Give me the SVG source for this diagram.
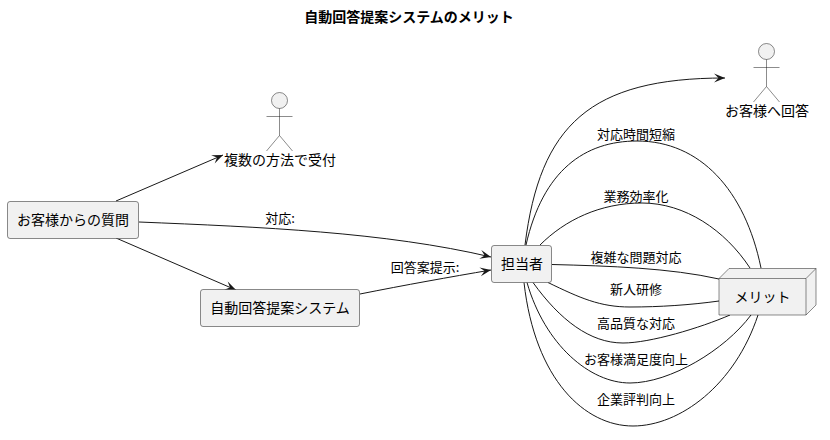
<svg xmlns="http://www.w3.org/2000/svg" width="830" height="440" viewBox="0 0 830 440">
<style>
text{font-family:"Noto Sans CJK JP","Noto Sans CJK SC",sans-serif;fill:#000;text-anchor:middle}
.n{font-size:14px}
.e{font-size:13px}
.t{font-size:14px;font-weight:bold}
.b{fill:#F1F1F1;stroke:#181818;stroke-width:.5}
.a{fill:none;stroke:#181818;stroke-width:.5}
.c{fill:none;stroke:#181818;stroke-width:1}
.h{marker-end:url(#arrow)}
</style>
<defs>
<marker id="arrow" markerUnits="userSpaceOnUse" markerWidth="14" markerHeight="12" refX="12" refY="6" orient="auto">
<path d="M12 6L1 1.500L5.500 6L1 10.500Z" fill="#181818"/>
</marker>
</defs>
<rect width="830" height="440" fill="#fff"/>
<text class="t" x="409" y="22">自動回答提案システムのメリット</text>
<g id="connectors">
<path class="c h" d="M116 201L223 155"/>
<path class="c h" d="M116 238L236 290"/>
<path class="c h" d="M139 222C260 227 385 232 491 257"/>
<path class="c h" d="M360 294C405 285 450 277 491 270"/>
<path class="c h" d="M525 245C540 125 590 78 725 78"/>
<path class="c" d="M526 245C543 170 585 141 637 141C700 141 745 190 761 268"/>
<path class="c" d="M540 245C565 220 600 203 642 203C685 203 725 230 750 268"/>
<path class="c" d="M552 264.500C610 266 670 268 719 279"/>
<path class="c" d="M548 282.500C580 298 600 307 630 307C660 307 690 305 719 301"/>
<path class="c" d="M533 282.500C560 320 590 343 623 343C650 343 700 328 730 315"/>
<path class="c" d="M527 282.500C545 345 590 383 630 383C670 383 725 350 751 315"/>
<path class="c" d="M524 282.500C535 380 585 426 633 426C680 426 735 385 758 315"/>
</g>
<g id="question"><rect class="b" x="7.500" y="201.500" width="131" height="37" rx="2.500"/><text class="n" x="73" y="225">お客様からの質問</text></g>
<g id="system"><rect class="b" x="200.500" y="289.500" width="159" height="37" rx="2.500"/><text class="n" x="280" y="313">自動回答提案システム</text></g>
<g id="staff"><rect class="b" x="491.500" y="245.500" width="60" height="37" rx="2.500"/><text class="n" x="522" y="269">担当者</text></g>
<g id="merit"><path class="b" d="M729 268.500H816V305L806 315H719V278.500Z"/><path class="a" d="M719 278.500H806L816 268.500M806 278.500V315"/><text class="n" x="762.500" y="302">メリット</text></g>
<g id="actor-reception"><circle class="b" cx="279.500" cy="100.500" r="8"/><path class="a" d="M279.500 108.500V135.500M266.500 116.500H292.500M279.500 135.500L266.500 151M279.500 135.500L292.500 151"/><text class="n" x="280" y="165">複数の方法で受付</text></g>
<g id="actor-answer"><circle class="b" cx="766.500" cy="51.500" r="8"/><path class="a" d="M766.500 59.500V86.500M753.500 67.500H779.500M766.500 86.500L753.500 102M766.500 86.500L779.500 102"/><text class="n" x="767" y="116">お客様へ回答</text></g>
<g id="labels">
<text class="e" x="280" y="223">対応:</text>
<text class="e" x="425" y="272">回答案提示:</text>
<text class="e" x="636" y="139">対応時間短縮</text>
<text class="e" x="636" y="201">業務効率化</text>
<text class="e" x="636" y="262">複雑な問題対応</text>
<text class="e" x="636" y="294">新人研修</text>
<text class="e" x="636" y="328">高品質な対応</text>
<text class="e" x="636" y="364">お客様満足度向上</text>
<text class="e" x="636" y="404">企業評判向上</text>
</g>
</svg>
